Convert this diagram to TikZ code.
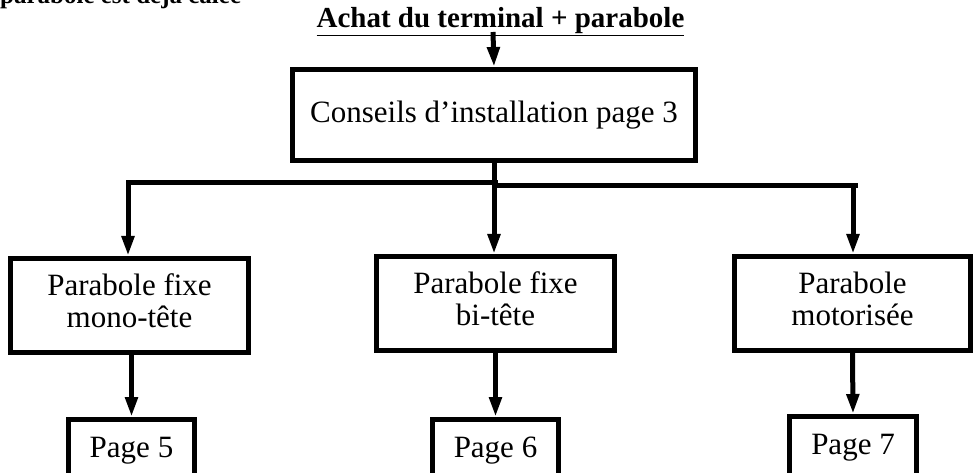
\documentclass[tikz,border=0pt]{standalone}
\usepackage{fontspec}
\setmainfont{Liberation Serif}
\usetikzlibrary{arrows.meta}
\begin{document}
\begin{tikzpicture}[x=1pt,y=-1pt,
  boxa/.style={draw=black, line width=5pt, inner sep=0pt, align=center,
    font=\fontsize{31}{32}\selectfont},
  wire/.style={line width=5pt, line cap=rect},
  arr/.style={line width=5pt, -{Triangle[length=20pt,width=12pt]}}]
\useasboundingbox (0,0) rectangle (975,473);
\clip (0,0) rectangle (975,473);
% texts
\node[anchor=base west, inner sep=0pt, font=\bfseries\fontsize{25}{26}\selectfont] (cut) at (0,4) {parabole est déjà calée};
\node[anchor=base, inner sep=0pt, font=\bfseries\fontsize{29}{30}\selectfont] (title) at (500.5,28) {\underline{Achat du terminal + parabole}};
% boxes
\node[boxa, minimum width=403pt, minimum height=91pt] (b1) at (494,115) {Conseils d’installation page 3};
\node[boxa, minimum width=238pt, minimum height=94pt] (bl) at (129.5,305.5) {Parabole fixe\\mono-tête\rule[-9pt]{0pt}{9pt}};
\node[boxa, minimum width=238pt, minimum height=94pt] (bm) at (495.5,303.5) {Parabole fixe\\bi-tête\rule[-9pt]{0pt}{9pt}};
\node[boxa, minimum width=236pt, minimum height=94pt] (br) at (852.5,303.5) {Parabole\\motorisée\rule[-9pt]{0pt}{9pt}};
\node[boxa, anchor=north, minimum width=126pt, minimum height=62pt] (p5) at (131.5,417) {Page 5};
\node[boxa, anchor=north, minimum width=126pt, minimum height=62pt] (p6) at (495.5,417) {Page 6};
\node[boxa, anchor=north, minimum width=127pt, minimum height=62pt] (p7) at (853,414) {Page 7};
% junctions
\coordinate (jL) at (128,183);
\coordinate (jM) at (495,184);
\coordinate (jR) at (855,186);
% connectors
\draw[arr] (493,32) -- (b1.north);
\draw[line width=5pt] (b1.south) -- (b1.south |- jR);
\draw[wire] (jL) -- (jL -| jM);
\draw[wire] (jR -| jM) -- (jR);
\draw[arr] (jL) -- (jL |- bl.north);
\draw[arr] (b1.south |- jM) -- (b1.south |- bm.north);
\draw[arr] ([xshift=-2pt]jR) -- ([xshift=-2pt]jR |- br.north);
\draw[arr] (p5.north |- bl.south) -- (p5.north);
\draw[arr] (bm.south) -- (p6.north);
\draw[arr] (br.south) -- (p7.north);
\end{tikzpicture}
\end{document}
